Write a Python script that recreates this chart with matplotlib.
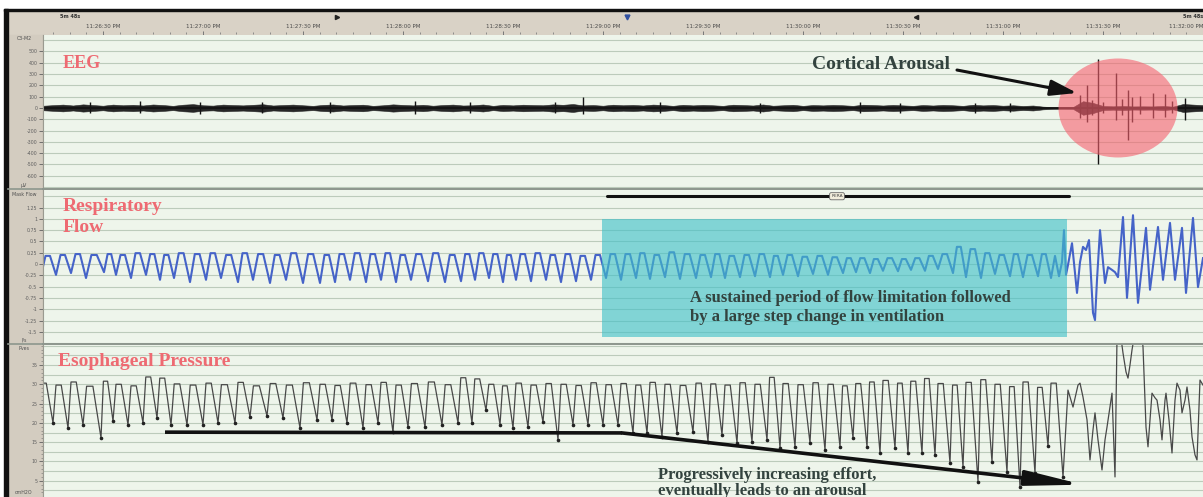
import matplotlib
matplotlib.use("Agg")
import matplotlib.pyplot as plt
from matplotlib.patches import Rectangle, Ellipse
import numpy as np

# ---------------- recording window ----------------
window_s = 348.0                      # 5 min 48 s page
clock_t = [18, 48, 78, 108, 138, 168, 198, 228, 258, 288, 318, 348]
clock_labels = ["11:26:30 PM", "11:27:00 PM", "11:27:30 PM", "11:28:00 PM",
                "11:28:30 PM", "11:29:00 PM", "11:29:30 PM", "11:30:00 PM",
                "11:30:30 PM", "11:31:00 PM", "11:31:30 PM", "11:32:00 PM"]

# ---------------- breath timing (s) ----------------
breath_t = [-1.5, 3.0, 7.5, 12.0, 17.4, 21.0, 25.5, 30.0, 34.2, 38.4, 43.2, 48.0, 52.5, 57.6, 62.1, 67.2, 72.0, 77.1, 82.2, 86.7,
            91.2, 96.0, 100.5, 105.0, 109.5, 114.6, 119.7, 124.5, 128.7, 132.9, 137.1, 141.0, 145.5, 150.0, 154.5, 159.0, 163.5, 168.0, 172.5, 177.0,
            181.2, 185.7, 190.2, 195.0, 199.5, 203.7, 208.2, 212.7, 217.2, 221.1, 225.6, 230.1, 234.6, 239.1, 243.0, 247.2, 251.1, 255.6, 259.5, 263.7,
            267.6, 272.1, 276.0, 280.5, 284.7, 289.2, 293.1, 297.6, 301.5, 306.0]

# ---------------- respiratory flow (l/s) ----------------
flow_trough = [-0.25, -0.24, -0.20, -0.31, -0.18, -0.24, -0.31, -0.24, -0.35, -0.31, -0.40, -0.35, -0.31, -0.40, -0.35, -0.42, -0.35, -0.42, -0.42, -0.40,
               -0.35, -0.40, -0.35, -0.40, -0.35, -0.38, -0.40, -0.38, -0.35, -0.31, -0.40, -0.35, -0.38, -0.35, -0.40, -0.38, -0.35, -0.31, -0.35, -0.31,
               -0.33, -0.29, -0.33, -0.31, -0.29, -0.31, -0.29, -0.27, -0.29, -0.24, -0.27, -0.22, -0.24, -0.20, -0.18, -0.20, -0.15, -0.16, -0.13, -0.15,
               -0.11, -0.20, -0.29, -0.31, -0.22, -0.27, -0.29, -0.27, -0.31]
flow_peak = [0.18, 0.20, 0.22, 0.20, 0.22, 0.20, 0.24, 0.22, 0.20, 0.24, 0.22, 0.24, 0.20, 0.24, 0.22, 0.20, 0.24, 0.22, 0.20, 0.22,
             0.24, 0.22, 0.24, 0.20, 0.22, 0.24, 0.20, 0.22, 0.24, 0.22, 0.20, 0.22, 0.24, 0.20, 0.22, 0.18, 0.20, 0.22, 0.22, 0.24,
             0.20, 0.26, 0.22, 0.20, 0.22, 0.18, 0.20, 0.22, 0.18, 0.20, 0.16, 0.18, 0.15, 0.13, 0.13, 0.11, 0.13, 0.11, 0.13, 0.18,
             0.22, 0.38, 0.33, 0.24, 0.20, 0.22, 0.20, 0.22]
# breathing after the arousal (irregular)
flow_tail_t = [303.6, 304.8, 305.7, 306.3, 306.9, 307.5, 308.7, 310.2, 311.1, 312.0, 312.9, 313.8, 315.0, 315.6, 316.2, 317.1,
               318.6, 319.5, 320.7, 321.6, 322.5, 324.0, 325.2, 327.0, 328.5, 330.9, 332.1, 334.5, 336.0, 338.1, 339.6, 341.7,
               342.9, 345.0, 346.5, 348.0]
flow_tail_v = [0.18, -0.27, 0.04, 0.75, -0.24, -0.02, 0.46, -0.64, 0.04, 0.38, 0.31, 0.53, -1.08, -1.24, -0.35, 0.75,
               -0.42, -0.07, -0.13, -0.18, -0.29, 1.04, -0.75, 1.08, -0.86, 0.80, -0.57, 0.82, -0.35, 0.91, -0.35, 0.80,
               -0.64, 1.02, -0.51, 0.13]

# ---------------- esophageal pressure (cmH2O) ----------------
press_trough = [19.5, 20.0, 18.7, 19.5, 16.1, 20.5, 19.5, 20.0, 21.3, 19.5, 19.5, 19.5, 20.0, 20.0, 21.5, 21.8, 21.3, 18.7, 20.8, 20.8,
                20.0, 18.7, 20.0, 17.6, 18.9, 18.9, 19.5, 20.0, 20.0, 23.3, 19.5, 18.7, 18.9, 20.2, 15.6, 19.5, 19.5, 19.5, 19.5, 17.4,
                17.4, 16.4, 17.4, 17.6, 15.1, 16.9, 14.8, 15.1, 15.6, 13.5, 13.8, 14.8, 13.0, 13.8, 16.1, 13.8, 12.2, 13.5, 12.2, 12.2,
                11.7, 9.6, 8.6, 4.7, 9.9, 7.3, 3.4, 7.0, 14.0, 6.0]
press_top = [30.3, 29.8, 30.6, 29.5, 30.8, 30.0, 29.6, 31.9, 31.6, 30.1, 29.8, 30.3, 29.9, 30.5, 29.6, 30.2, 29.8, 30.4, 30.0, 29.7,
             30.3, 29.9, 30.5, 29.8, 30.2, 30.6, 29.9, 31.7, 31.4, 30.0, 29.6, 30.3, 29.8, 30.2, 30.0, 29.7, 30.4, 29.9, 30.2, 29.8,
             30.5, 30.0, 29.7, 30.3, 30.1, 29.8, 30.4, 30.0, 31.8, 30.2, 29.9, 30.4, 30.0, 29.6, 30.2, 30.6, 31.0, 30.3, 30.8, 31.5,
             30.2, 29.8, 30.5, 31.2, 30.0, 29.4, 30.6, 29.2, 30.3]
press_tail_t = [307.5, 309.0, 310.5, 311.1, 312.0, 313.2, 314.1, 315.0, 315.6, 316.5, 317.7, 318.6, 319.2, 320.7, 321.6, 322.2,
                323.4, 324.0, 324.9, 325.5, 326.1, 326.7, 327.3, 329.7, 330.0, 330.9, 331.5, 332.1, 332.7, 333.6, 334.2, 335.1,
                335.7, 336.6, 336.9, 337.8, 338.7, 339.6, 340.2, 341.1, 341.7, 342.6, 343.2, 344.1, 344.7, 345.6, 346.2, 347.1, 348.0]
press_tail_v = [28.5, 24.1, 29.8, 30.3, 26.7, 20.8, 10.4, 18.2, 22.6, 15.6, 7.8, 15.6, 18.9, 27.7, 6.0, 42.0,
                42.0, 38.1, 33.2, 31.6, 35.0, 38.9, 42.0, 42.0, 39.7, 18.9, 13.8, 20.8, 27.7, 26.5, 25.9, 20.8,
                15.6, 25.9, 27.7, 20.8, 12.2, 25.9, 30.3, 28.5, 22.6, 25.9, 29.3, 23.3, 16.4, 11.7, 10.4, 31.1, 29.8]

# ---------------- EEG C3-M2 (uV) ----------------
eeg_step = 3.0
eeg_env = [20, 25, 30, 22, 32, 26, 20, 30, 24, 28,
           22, 31, 26, 19, 29, 34, 24, 21, 30, 26,
           23, 28, 33, 22, 26, 30, 24, 19, 27, 31,
           22, 26, 29, 19, 24, 32, 27, 23, 28, 20,
           26, 30, 22, 24, 31, 19, 27, 23, 29, 26,
           24, 32, 28, 35, 23, 26, 20, 29, 24, 27,
           22, 30, 26, 19, 28, 23, 27, 24, 19, 29,
           26, 22, 31, 20, 24, 28, 19, 26, 23, 27,
           24, 19, 29, 26, 22, 27, 23, 19, 26, 22,
           27, 24, 19, 28, 23, 26, 20, 24, 18, 22,
           12, 8, 7, 8, 60, 45, 18, 15, 18, 14,
           15, 14, 18, 12, 35, 30, 25]
spike_t = [14.1, 29.1, 47.1, 65.7, 86.1, 111.6, 128.1, 153.6, 162.0, 185.1, 215.1, 245.1, 257.1, 279.6, 290.1,
           311.1, 313.2, 314.7, 316.5, 318.0, 321.9, 323.7, 325.5, 326.7, 329.1, 333.0, 336.6, 338.7, 342.6]
spike_hi = [55, 60, 50, 55, 55, 60, 50, 55, 95, 50, 45, 50, 45, 45, 40,
            115, 205, 70, 430, 50, 310, 80, 160, 100, 110, 130, 120, 60, 90]
spike_lo = [-45, -40, -55, -45, -40, -50, -40, -45, -55, -40, -40, -45, -40, -40, -35,
            -90, -125, -60, -500, -40, -110, -60, -285, -120, -50, -90, -80, -40, -105]

eeg_ticks = [500, 400, 300, 200, 100, 0, -100, -200, -300, -400, -500, -600]
flow_ticks = [1.25, 1.0, 0.75, 0.5, 0.25, 0.0, -0.25, -0.5, -0.75, -1.0, -1.25, -1.5]
flow_tick_labels = ["1.25", "1", "0.75", "0.5", "0.25", "0", "-0.25", "-0.5", "-0.75", "-1", "-1.25", "-1.5"]
press_ticks = [35, 30, 25, 20, 15, 10, 5]

# ---------------- styling ----------------
PLOT_BG = "#eef5eb"
GRID = "#bccbbb"
PANEL = "#d3ccc0"
RED = "#ee6a72"
NOTE = "#33433f"
SERIF = ["Liberation Serif", "DejaVu Serif"]

W, H = 1203, 497
fig = plt.figure(figsize=(W / 100, H / 100), dpi=100, facecolor="white")


def box(x0, y0, x1, y1):
    return [x0 / W, 1 - y1 / H, (x1 - x0) / W, (y1 - y0) / H]


frame = fig.add_axes([0, 0, 1, 1])
frame.set_xlim(0, W)
frame.set_ylim(H, 0)
frame.axis("off")
frame.add_patch(Rectangle((8, 11), W - 8, 24, color="#d9d2c6"))
frame.add_patch(Rectangle((8, 35), 35, H - 35, color=PANEL))
frame.add_patch(Rectangle((4, 9), 3.5, H - 9, color="#111111"))
frame.add_patch(Rectangle((4, 9), W - 4, 2.2, color="#111111"))
for yy in (189, 344):
    frame.plot([8, 43], [yy, yy], color="#8d968d", lw=1.2)
frame.plot([42.5, 42.5], [35, H], color="#9a9a90", lw=0.8)
for txt, yy in [("C3-M2", 39), ("\u00b5V", 185), ("Mask Flow", 194), ("l/s", 340),
                ("Pves", 349), ("cmH2O", 493)]:
    frame.text(24, yy, txt, fontsize=3.4, color="#505050", ha="center", va="center")


def breath_path(times, lows, highs, rise, hold, shift=0.0):
    xs, ys = [], []
    for i in range(len(times) - 1):
        t0 = times[i] + shift
        period = times[i + 1] - times[i]
        xs += [t0, t0 + rise * period, t0 + hold * period]
        ys += [lows[i], highs[i], highs[i]]
    xs.append(times[-1] + shift)
    ys.append(lows[len(times) - 1])
    return xs, ys


def style_panel(ax, ylim, grid_vals, ticks, labels, top_line):
    ax.set_facecolor(PLOT_BG)
    ax.set_xlim(0, window_s)
    ax.set_ylim(*ylim)
    for g in grid_vals:
        ax.axhline(g, color=GRID, lw=0.8, zorder=0.5)
    ax.set_xticks([])
    ax.set_yticks(ticks)
    ax.set_yticklabels(labels)
    ax.tick_params(axis="y", labelsize=3.4, length=3, width=0.6, colors="#606060", pad=1)
    for s in ("right", "bottom"):
        ax.spines[s].set_visible(False)
    ax.spines["left"].set_color("#9a9a90")
    ax.spines["left"].set_linewidth(0.8)
    ax.spines["top"].set_visible(top_line)
    ax.spines["top"].set_color("#8d968d")
    ax.spines["top"].set_linewidth(1.4)


# ---------------- header (time axis) ----------------
head = fig.add_axes(box(43, 11, 1203, 35))
head.set_xlim(0, window_s)
head.set_ylim(0, 1)
head.axis("off")
for t, lab in zip(clock_t, clock_labels):
    ha = "right" if t >= window_s else "center"
    head.text(t, 0.36, lab, fontsize=4.0, color="#4a4a4a", ha=ha, va="center")
head.vlines(clock_t, 0.0, 0.16, color="#707070", lw=0.7)
minor_t = [t for t in np.arange(3, window_s, 5.0)]
head.plot(minor_t, [0.1] * len(minor_t), ls="none", marker="|", ms=2, color="#808080", mew=0.6)
head.text(5, 0.75, "5m 48s", fontsize=3.6, color="#333333", ha="left", va="center", weight="bold")
head.text(window_s, 0.75, "5m 48s", fontsize=3.6, color="#333333", ha="right", va="center", weight="bold")
head.plot([88.2], [0.75], marker=">", ms=3, color="#222222")
head.plot([175.2], [0.75], marker="v", ms=3.5, color="#3050a0")
head.plot([261.9], [0.75], marker="<", ms=3, color="#222222")

# ---------------- EEG ----------------
eeg = fig.add_axes(box(43, 35, 1203, 189))
style_panel(eeg, (-717, 646), list(range(-700, 700, 100)), eeg_ticks,
            [str(v) for v in eeg_ticks], False)
env = np.array(eeg_env, dtype=float)
env_t = np.arange(len(env)) * eeg_step
eeg.fill_between(env_t, -env, env, color="#262626", lw=0.4, zorder=2)
eeg.plot([0, window_s], [0, 0], color="#111111", lw=1.2, zorder=2)
eeg.vlines(spike_t, spike_lo, spike_hi, color="#141414", lw=1.0, zorder=2)
eeg.add_patch(Ellipse((322.5, 0), 35.7, 876, facecolor="#f7606e", alpha=0.6,
                      edgecolor="none", zorder=3))
eeg.text(6.0, 398, "EEG", fontsize=13, color=RED, weight="bold", family=SERIF,
         ha="left", va="center", zorder=5)
eeg.text(230.7, 389, "Cortical Arousal", fontsize=14, color=NOTE, weight="bold",
         family=SERIF, ha="left", va="center", zorder=5)
eeg.annotate("", xy=(310.2, 133), xytext=(274.2, 336),
             arrowprops=dict(arrowstyle="-|>,head_length=1.0,head_width=0.3",
                             lw=2.2, color="#111111", mutation_scale=16,
                             shrinkA=0, shrinkB=0), zorder=5)

# ---------------- respiratory flow ----------------
flow = fig.add_axes(box(43, 189, 1203, 344))
style_panel(flow, (-1.77, 1.66), [v * 0.25 for v in range(-7, 7)], flow_ticks,
            flow_tick_labels, True)
n_flow = len(flow_trough)
fx, fy = breath_path(breath_t[:n_flow], flow_trough, flow_peak, 0.3, 0.6, shift=0.9)
fx += flow_tail_t
fy += flow_tail_v
flow.plot(fx, fy, color="#4563c8", lw=1.5, zorder=2, solid_joinstyle="round")
flow.add_patch(Rectangle((167.7, -1.61), 139.5, 2.605, facecolor="#3fc0c8",
                         alpha=0.62, edgecolor="none", zorder=3))
flow.plot([169.2, 307.8], [1.50, 1.50], color="#111111", lw=2.2, zorder=4,
          solid_capstyle="round")
flow.text(238.2, 1.50, "RERA", fontsize=3.2, color="#444444", ha="center", va="center",
          zorder=5, bbox=dict(boxstyle="round,pad=0.35", fc="#f2eedc", ec="#666666", lw=0.6))
flow.text(6.0, 1.05, "Respiratory\nFlow", fontsize=14, color=RED, weight="bold",
          family=SERIF, ha="left", va="center", linespacing=1.3, zorder=5)
flow.text(194.1, -0.96, "A sustained period of flow limitation followed\n"
          "by a large step change in ventilation", fontsize=12, color=NOTE,
          weight="bold", family=SERIF, ha="left", va="center", linespacing=1.2, zorder=5)

# ---------------- esophageal pressure ----------------
pres = fig.add_axes(box(43, 344, 1203, 497))
style_panel(pres, (0.8, 40.44), [v * 2.5 for v in range(1, 17)], press_ticks,
            [str(v) for v in press_ticks], True)
pres.set_yticks(list(range(2, 41)), minor=True)
pres.tick_params(axis="y", which="minor", length=1.5, width=0.4, colors="#707070")
px_, py_ = breath_path(breath_t, press_trough, press_top, 0.2, 0.55)
px_ += press_tail_t
py_ += press_tail_v
pres.plot(px_, py_, color="#484848", lw=0.9, zorder=2)
pres.plot(breath_t, press_trough, ls="none", marker="o", ms=1.6, color="#222222", zorder=2)
pres.text(4.5, 36.0, "Esophageal Pressure", fontsize=14, color=RED, weight="bold",
          family=SERIF, ha="left", va="center", zorder=5)
pres.plot([36.6, 173.7], [17.6, 17.4], color="#111111", lw=2.6, zorder=4,
          solid_capstyle="butt")
pres.annotate("", xy=(312.0, 4.0), xytext=(173.7, 17.4),
              arrowprops=dict(arrowstyle="-|>,head_length=2.4,head_width=0.32",
                              lw=2.6, color="#111111", mutation_scale=14,
                              shrinkA=0, shrinkB=0), zorder=4)
pres.text(184.5, 4.4, "Progressively increasing effort,\neventually leads to an arousal",
          fontsize=12, color=NOTE, weight="bold", family=SERIF, ha="left", va="center",
          linespacing=1.0, zorder=5)

fig.savefig("out.png", dpi=100, facecolor="white")
